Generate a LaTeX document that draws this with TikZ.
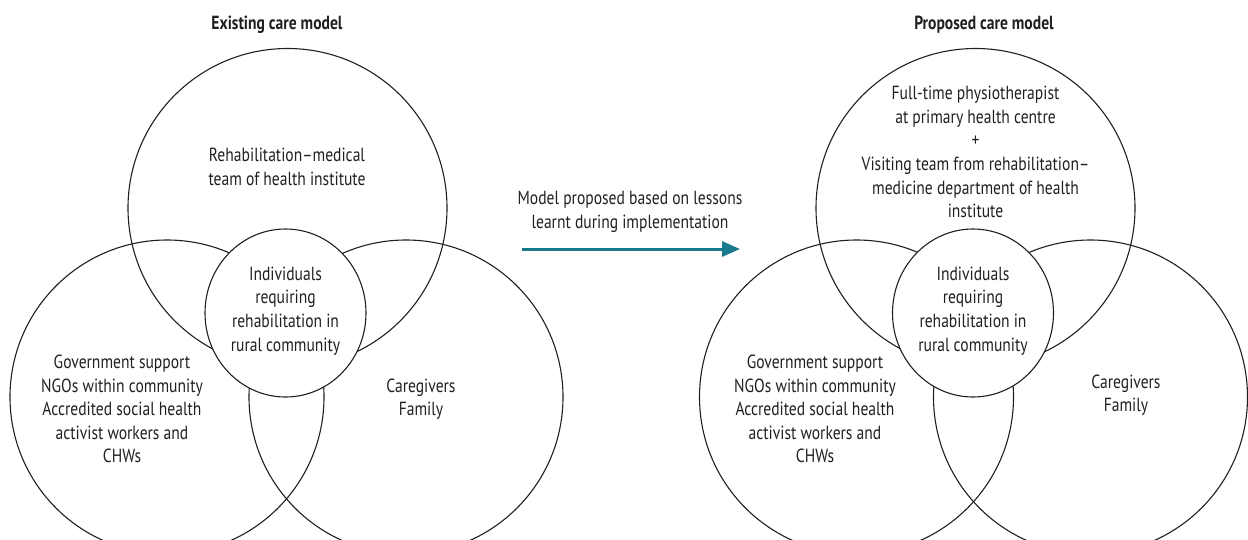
\documentclass[tikz,border=0pt]{standalone}
\usepackage{fontspec}
\setmainfont{PT Sans}[FakeStretch=0.82]
\usetikzlibrary{arrows.meta}
\definecolor{ink}{HTML}{231F20}
\definecolor{teal}{HTML}{17798B}
\tikzset{
  ring/.style={circle,draw=ink,line width=1.1pt,inner sep=0pt,outer sep=0pt,minimum size=#1},
  lbl/.style={text=ink,align=center,inner sep=0pt,font=\fontsize{19}{23.6}\selectfont},
  ttl/.style={text=ink,align=center,inner sep=0pt,font=\fontsize{19}{23.6}\selectfont\bfseries},
}
\begin{document}
\begin{tikzpicture}[x=1pt,y=-1pt]
\useasboundingbox (0,0) rectangle (1248,539);
\clip (0,0) rectangle (1248,539);
% ---------- existing model ----------
\node[ttl] (t1) at (277,25) {Existing care model};
\node[ring=319pt] (top1) at (287.5,208) {};
\node[ring=314pt] (left1) at (167,397) {};
\node[ring=314pt] (right1) at (406,397) {};
\draw[ink,line width=1.1pt,fill=white] (285.5,313) ellipse [x radius=80.5pt,y radius=84pt];
\coordinate (mid1) at (285.5,313);
\node[lbl] (tx1) at (287,167) {Rehabilitation--medical\\team of health institute};
\node[lbl] (sx1) at (285.5,311) {Individuals\\requiring\\rehabilitation in\\rural community};
\node[lbl] (lx1) at (122,409) {Government support\\NGOs within community\\Accredited social health\\activist workers and\\CHWs};
\node[lbl] (rx1) at (421,399) {Caregivers\\Family};
% ---------- arrow ----------
\node[lbl] (ax) at (630,212) {Model proposed based on lessons\\learnt during implementation};
\coordinate (a0) at (522,249);
\coordinate (a1) at (740,249);
\draw[teal,line width=3pt,-{Triangle[length=18pt,width=15pt]}] (a0) -- (a1);
% ---------- proposed model ----------
\node[ttl] (t2) at (984,25) {Proposed care model};
\node[ring=319pt] (top2) at (975.5,208) {};
\node[ring=314pt] (left2) at (856.5,397) {};
\node[ring=314pt] (right2) at (1090.5,397) {};
\draw[ink,line width=1.1pt,fill=white] (973,313) ellipse [x radius=80.5pt,y radius=84pt];
\coordinate (mid2) at (973,313);
\node[lbl] (tx2) at (975.5,152) {Full-time physiotherapist\\at primary health centre\\+\\Visiting team from rehabilitation--\\medicine department of health\\institute};
\node[lbl] (sx2) at (973,311) {Individuals\\requiring\\rehabilitation in\\rural community};
\node[lbl] (lx2) at (815,409) {Government support\\NGOs within community\\Accredited social health\\activist workers and\\CHWs};
\node[lbl] (rx2) at (1126,395) {Caregivers\\Family};
\end{tikzpicture}
\end{document}
